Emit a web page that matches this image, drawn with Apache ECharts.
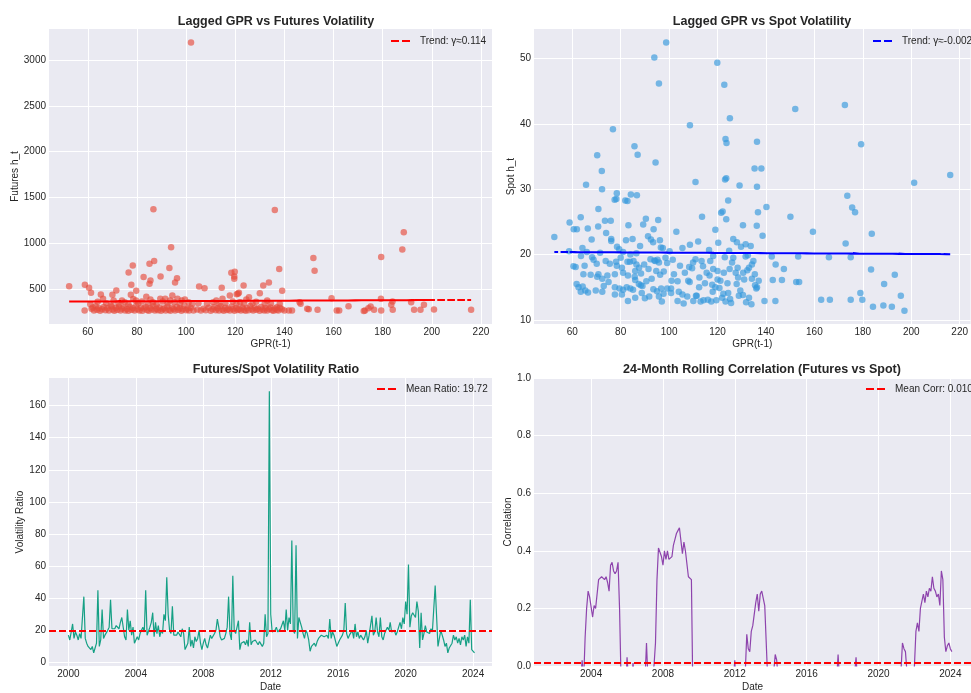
<!DOCTYPE html>
<html><head><meta charset="utf-8">
<script src="https://cdn.jsdelivr.net/npm/echarts@6/dist/echarts.min.js"></script>
<style>html,body{margin:0;padding:0;background:#fff}#c{width:971px;height:693px}</style>
</head><body><div id="c"></div>
<script>
// ---------- data ----------
const titles = ['Lagged GPR vs Futures Volatility','Lagged GPR vs Spot Volatility','Futures/Spot Volatility Ratio','24-Month Rolling Correlation (Futures vs Spot)'];
const gprTicks = [60,80,100,120,140,160,180,200,220];
const futTicks = [500,1000,1500,2000,2500,3000];
const spotTicks = [10,20,30,40,50];
const ratioTicks = [0,20,40,60,80,100,120,140,160];
const ratioYearTicks = [2000,2004,2008,2012,2016,2020,2024];
const corrYearTicks = [2004,2008,2012,2016,2020,2024];

// futures scatter: [GPR(t-1), Futures h_t]
const futuresPoints = [
[102.0,3190],[86.7,1374],[136.1,1366],[188.6,1122],[188.0,934],[179.4,853],[151.8,842],[152.3,704],[137.9,722],[139.1,485],
[93.9,959],[93.2,733],[87.0,809],[85.1,781],[78.3,760],[76.6,686],[77.7,551],[82.7,635],[85.5,598],[85.1,562],
[89.6,642],[95.5,576],[96.3,623],[52.4,536],[58.8,551],[60.5,518],[61.3,464],[65.3,445],[66.2,398],[70.0,442],
[71.6,489],[79.7,486],[83.8,420],[105.3,533],[107.5,514],[114.5,518],[117.8,434],[118.4,682],[119.8,693],[119.6,617],
[119.6,642],[120.6,449],[121.5,464],[123.4,544],[125.6,416],[130.0,460],[131.4,544],[133.7,576],[159.2,405],[166.1,318],
[179.3,398],[183.5,333],[184.0,369],[191.6,361],[196.8,333],[146.6,344],[149.3,289],[146.2,361],[216.0,278],[200.9,282],
[195.4,278],[192.8,278],[184.1,278],[179.4,270],[175.1,314],[174.2,296],[172.8,270],[172.3,266],[176.5,278],[162.3,270],
[161.3,270],[153.5,278],[149.9,285],[143.1,270],[141.8,270],[140.0,270],[138.1,344],[136.9,307],
[58.7,271],[61.5,290],[62.0,305],[62.5,272],[63.2,318],[63.8,280],[64.4,298],[65.0,268],[65.8,285],[66.5,310],
[67.2,275],[68.0,295],[68.6,270],[69.3,322],[70.1,282],[70.8,268],[71.4,300],[72.0,278],[72.7,315],[73.3,270],
[73.9,290],[74.6,305],[75.2,272],[75.9,288],[76.5,268],[77.1,312],[77.8,280],[78.4,296],[79.0,270],[79.7,325],
[80.3,285],[81.0,272],[81.6,300],[82.2,268],[82.9,292],[83.5,310],[84.1,276],[84.8,268],[85.4,298],[86.0,282],
[86.7,320],[87.3,270],[87.9,290],[88.6,275],[89.2,305],[89.8,268],[90.5,285],[91.1,296],[91.7,272],[92.4,315],
[93.0,280],[93.6,268],[94.3,300],[94.9,288],[95.5,270],[96.2,310],[96.8,278],[97.4,295],[98.1,268],[98.7,285],
[99.3,322],[100.0,275],[100.6,292],[101.2,270],[101.9,302],[103.0,272],[104.5,282],[106.0,270],[107.0,290],[108.0,275],
[109.2,300],[110.0,268],[110.8,285],[111.5,310],[112.1,275],[112.8,295],[113.4,270],[114.0,318],[114.7,282],[115.3,268],
[115.9,300],[116.6,277],[117.2,290],[117.8,270],[118.5,312],[119.1,284],[119.7,268],[120.4,298],[121.0,276],[121.6,288],
[122.3,270],[122.9,305],[123.5,280],[124.2,268],[124.8,295],[125.4,275],[126.1,320],[126.7,285],[127.3,270],[128.0,300],
[128.6,278],[129.2,290],[129.9,268],[130.5,310],[131.1,282],[131.8,272],[132.4,298],[133.0,270],[133.7,288],[134.3,305],
[135.0,275],[135.6,268],[136.2,292],[136.9,280],[137.5,270],[138.2,300],[139.0,285],
[61.0,340],[64.0,365],[67.5,350],[69.8,314],[70.5,380],[72.5,345],[73.9,380],[75.0,360],[76.5,340],[77.5,442],
[78.5,395],[79.6,380],[80.5,350],[82.0,370],[84.5,345],[85.5,390],[86.5,360],[88.0,340],[89.5,398],[90.5,370],
[91.5,398],[92.5,350],[93.5,380],[94.4,434],[95.2,360],[96.5,400],[97.5,345],[98.2,380],[99.5,390],[101.0,360],
[102.5,340],[105.0,350],[108.5,345],[111.0,360],[112.3,380],[113.5,345],[114.8,398],[116.0,350],[119.0,370],[120.5,345],
[121.1,453],[122.0,360],[123.5,345],[124.5,390],[127.0,350],[128.5,365],[132.0,345],[133.0,380],[134.5,350]
];

// spot scatter: [GPR(t-1), Spot h_t]
const spotPoints = [
[98.8,52.5],[93.9,50.2],[119.9,49.4],[95.8,46.2],[122.8,46.0],[125.1,40.9],[108.6,39.8],[76.8,39.2],[123.3,37.7],[123.7,37.1],
[70.3,35.2],[85.7,36.6],[87.0,35.3],[72.2,32.8],[94.4,34.1],[65.7,30.7],[72.3,30.0],[110.9,31.1],[123.1,31.5],[123.6,31.7],
[129.1,30.6],[78.4,29.4],[77.5,28.4],[78.2,28.5],[81.9,28.3],[82.8,28.2],[84.2,29.2],[86.7,29.1],[70.8,27.0],[124.4,28.3],
[121.5,26.4],[122.1,26.6],[152.1,42.3],[172.6,42.9],[136.3,37.3],[179.3,36.9],[135.3,33.2],[138.1,33.2],[136.3,30.4],[216.1,32.2],
[201.2,31.0],[173.6,29.0],[175.6,27.2],[176.8,26.5],[136.7,26.5],[140.2,27.3],
[63.5,25.7],[58.9,24.9],[60.6,23.9],[61.9,23.9],[66.4,24.0],[70.7,24.3],[73.5,25.2],[75.9,25.2],[74.0,23.3],[76.1,22.4],
[76.1,22.1],[78.5,21.2],[79.4,20.8],[83.2,24.5],[84.9,22.4],[82.2,22.2],[89.3,24.6],[90.4,25.5],[93.6,23.9],[95.5,25.3],
[91.3,22.8],[92.5,22.3],[93.4,21.9],[96.2,22.2],[97.4,21.0],[96.6,21.1],[52.6,22.7],[58.7,20.5],[64.2,21.0],[63.6,19.8],
[113.6,25.8],[119.1,23.8],[120.3,21.8],[123.6,25.4],[124.8,20.6],[130.5,24.5],[131.6,21.6],[133.7,21.3],[150.1,25.8],[136.2,24.4],
[138.6,22.9],[159.4,23.5],[172.9,21.7],[183.7,23.2],[108.6,21.5],[112.0,22.0],[116.5,20.7],[118.2,19.8],[126.5,22.4],[128.0,21.9],
[129.7,21.2],[103.0,23.5],[105.5,21.0],[100.2,20.5],[88.0,21.3],[86.5,20.2],[68.0,22.3],[71.5,20.3],[81.0,20.4],[66.0,20.4],
[61.4,18.1],[65.1,18.3],[61.8,15.5],[62.6,15.0],[63.5,14.3],[64.3,15.1],[65.4,14.5],[68.8,19.2],[70.1,18.6],[70.8,17.0],
[72.4,16.3],[74.5,16.8],[77.6,17.0],[69.7,14.5],[72.4,14.3],[75.5,18.6],[78.4,18.3],[80.5,18.0],[77.6,15.0],[79.5,14.8],
[81.0,14.6],[82.5,15.0],[84.0,14.8],[85.1,14.6],[77.6,13.9],[80.5,13.9],[83.0,12.9],[78.1,18.9],[82.8,18.9],[83.8,18.9],
[85.3,19.0],[86.5,18.5],[86.0,17.5],[87.6,18.0],[88.4,17.1],[85.8,16.6],[81.0,17.2],[83.0,16.8],[86.0,16.1],[87.5,15.5],
[88.3,15.3],[89.0,15.2],[90.0,13.3],[92.3,19.3],[93.9,19.1],[94.3,19.0],[95.2,19.2],[95.8,18.8],[94.7,17.5],[96.3,16.9],
[97.8,17.4],[95.0,14.4],[95.8,13.6],[96.7,14.8],[97.7,14.0],[99.2,14.8],[100.8,14.8],[99.2,18.7],[101.5,19.2],[103.5,15.9],
[100.8,14.1],[103.5,12.9],[105.5,13.9],[107.9,16.0],[108.5,15.8],[109.9,18.8],[108.3,18.1],[109.5,17.9],[110.9,19.3],[111.4,13.7],
[112.4,15.0],[113.4,19.0],[114.0,18.2],[114.2,13.0],[114.8,15.6],[116.7,16.8],[117.8,15.4],[118.2,17.8],[118.0,14.3],[119.1,15.0],
[117.4,12.8],[116.0,13.1],[113.0,12.8],[111.1,13.7],[120.0,16.2],[120.8,14.9],[121.2,16.0],[121.9,13.4],[122.6,17.2],[122.4,14.0],
[123.3,12.8],[124.1,15.6],[124.4,14.1],[125.2,13.2],[125.6,12.6],[126.0,18.8],[126.5,19.5],[127.5,17.2],[128.3,18.0],[127.9,15.5],
[128.8,13.7],[129.4,14.5],[130.6,17.2],[131.0,16.2],[131.8,12.7],[132.5,19.9],[133.0,18.0],[134.2,16.3],[134.8,19.0],[135.4,17.0],
[136.0,14.8],[135.5,15.3],[133.0,13.4],[136.3,15.0],[131.6,19.7],[142.4,19.7],[144.0,18.5],[147.4,17.8],[142.8,16.1],[146.6,16.1],
[152.5,15.8],[153.7,15.8],[139.4,12.9],[143.9,12.9],[162.8,13.1],[166.4,13.1],[175.0,13.1],[179.8,13.1],[179.0,14.1],[183.4,17.7],
[193.2,16.9],[188.8,15.5],[195.7,13.7],[184.2,12.0],[188.5,12.2],[192.0,12.0],[197.2,11.4],[153.3,19.7],[166.0,19.6],[175.0,19.6],
[134.2,18.5],[137.0,16.0],[132.3,17.6],[120.0,17.5],[117.0,19.0],[115.5,17.2],[106.5,17.2],[104.5,18.3],[102.0,17.0],[98.5,19.5],
[91.5,17.8],[92.8,16.3],[90.6,15.9],[89.7,18.5],[93.5,14.7],[97.0,12.8],[91.8,13.6],[88.7,14.1],[86.0,13.4],[75.0,15.8],
[73.0,15.2],[70.3,16.6],[67.6,16.9],[66.5,14.2],[60.5,18.2],[64.6,17.0],[68.2,19.6],[73.8,19.0],[80.0,19.5],[84.0,20.0],
[101.0,16.0],[104.0,14.3],[106.0,12.5],[107.5,13.6],[110.0,12.9],[112.5,16.5],[119.5,13.0],[123.0,19.6],[125.0,17.8],[128.5,16.5],
[130.5,13.8],[134.0,12.4]
];

// trend fits (slope from legend, intercept)
const futTrend = {slope: 0.114, intercept: 362, label: 'Trend: γ≈0.114'};
const spotTrend = {slope: -0.002, intercept: 20.5, label: 'Trend: γ≈-0.002'};

// monthly futures/spot volatility ratio, Jan 2000 .. Feb 2024
const ratioStart = 2000;
const ratioValues = [
17,14,13,24,15,19,17,14,18,15,16,41,
15,12,10,9,8,10,6,9,12,45,10,14,
33,15,17,16,20,22,39,21,22,21,23,22,
21,25,28,29,16,14,33,20,26,17,22,12,
13,16,14,18,20,22,19,45,17,18,22,25,
31,16,25,18,23,16,20,18,30,26,53,30,
20,18,35,17,18,17,19,20,16,21,18,8,
10,12,22,10,14,9,16,13,15,20,12,8,
12,15,11,9,13,17,15,16,18,20,27,22,
16,14,13,15,18,22,41,18,14,54,20,18,
19,26,8,12,11,13,11,14,10,25,11,13,
12,14,15,11,13,12,10,12,30,16,18,169,
30,19,18,20,22,19,18,21,20,26,20,33,
20,28,24,76,20,18,73,15,28,27,22,18,
15,20,18,14,7,10,11,12,10,13,15,16,
17,18,16,15,17,15,27,15,19,17,18,10,
12,14,15,17,20,37,18,15,17,16,20,15,
24,16,19,15,17,18,14,16,20,12,17,18,
29,17,19,28,19,16,28,16,14,18,20,22,
20,25,19,18,20,17,19,22,25,21,28,24,
38,30,61,22,29,31,30,28,38,32,9,31,
14,18,23,19,20,18,21,19,20,48,49,10,
15,20,17,14,10,12,6,9,10,12,17,14,
16,12,15,11,16,14,17,10,16,12,39,8,
7,6
];
const meanRatio = 19.72;

// 24-month rolling correlation, Dec 2001 .. Feb 2024 (values below 0 fall outside the axis)
const corrStart = 2001 + 11/12;
const corrValues = [
-0.2,
-0.15,-0.2,-0.25,-0.2,-0.18,-0.22,-0.2,-0.15,-0.12,-0.18,-0.2,-0.15,
-0.15,-0.1,-0.12,-0.08,-0.1,-0.05,0.02,-0.05,0.1,0.2,0.26,0.24,
0.24,0.17,0.21,0.2,0.25,0.3,0.3,0.31,0.31,0.3,0.31,0.29,
0.26,0.35,0.36,0.33,0.32,0.33,0.36,0.2,-0.05,-0.2,-0.15,-0.1,
0.03,-0.05,-0.1,-0.05,0.01,-0.05,-0.1,-0.15,-0.1,-0.12,-0.1,-0.15,
-0.05,0.08,-0.05,-0.1,-0.05,-0.02,0.0,0.08,0.3,0.41,0.41,0.38,
0.35,0.4,0.37,0.4,0.37,0.37,0.38,0.42,0.44,0.46,0.47,0.48,
0.48,0.39,0.43,0.4,0.4,0.31,0.31,0.3,-0.1,-0.2,-0.25,-0.2,
-0.2,-0.25,-0.3,-0.25,-0.2,-0.22,-0.25,-0.3,-0.28,-0.25,-0.2,-0.22,
-0.2,-0.18,-0.22,-0.25,-0.2,-0.15,-0.18,-0.2,-0.15,-0.1,-0.12,-0.05,
0.02,-0.1,-0.15,-0.1,-0.12,-0.15,-0.1,-0.02,0.11,0.06,0.05,0.12,
0.14,0.18,0.22,0.25,0.19,0.25,0.26,0.26,0.21,0.21,-0.05,-0.1,
-0.05,-0.03,-0.02,0.04,0.02,-0.05,-0.1,-0.15,-0.1,-0.12,-0.15,-0.1,
-0.15,-0.2,-0.18,-0.2,-0.22,-0.25,-0.2,-0.18,-0.2,-0.22,-0.2,-0.18,
-0.15,-0.12,-0.15,-0.18,-0.2,-0.15,-0.12,-0.1,-0.12,-0.15,-0.12,-0.1,
-0.1,-0.12,-0.1,-0.08,-0.1,-0.12,-0.1,-0.08,-0.05,0.04,-0.05,-0.1,
-0.12,-0.1,-0.08,-0.1,-0.12,-0.1,-0.08,-0.05,-0.03,0.03,-0.05,-0.1,
-0.12,-0.15,-0.18,-0.2,-0.15,-0.12,-0.15,-0.18,-0.2,-0.15,-0.12,-0.15,
-0.18,-0.2,-0.25,-0.2,-0.18,-0.15,-0.2,-0.18,-0.15,-0.12,-0.1,-0.12,
-0.1,-0.08,-0.05,-0.02,0.08,0.06,0.05,-0.02,-0.1,-0.08,-0.1,-0.05,
0.0,0.12,0.15,0.12,0.2,0.2,0.25,0.22,0.26,0.24,0.27,0.26,
0.31,0.27,0.26,0.24,0.25,0.21,0.33,0.3,0.1,0.05,0.07,0.08,
0.06,0.05
];
const meanCorr = 0.010;

// ---------- chart ----------
const FONT = 'Liberation Sans, Arial, sans-serif';
const TXT = '#262626';
const ratioSeries = ratioValues.map((v,i)=>[ratioStart + i/12, v]);
const corrSeries = corrValues.map((v,i)=>[corrStart + i/12, v]);
// the fitted line is drawn through every observation's x in a shuffled (non-sorted) order,
// the way a plot of the fit over unsorted data overlaps its own dashes
function shuffledOrder(n){ return Array.from({length:n},(_,i)=>i).sort((a,b)=>((a*7919)%1013)-((b*7919)%1013)); }
const futTrendLine = shuffledOrder(futuresPoints.length).map(i=>{const x=futuresPoints[i][0]; return [x, futTrend.intercept + futTrend.slope*x];});
const spotTrendLine = shuffledOrder(spotPoints.length).map(i=>{const x=spotPoints[i][0]; return [x, spotTrend.intercept + spotTrend.slope*x];});

function axis(opts){
  const ticks = opts.ticks;
  const a = {
    type:'value', gridIndex: opts.grid, min: opts.min, max: opts.max,
    name: opts.name, nameLocation:'middle', nameGap: opts.nameGap,
    nameTextStyle:{fontFamily:FONT, fontSize:10, color:TXT},
    axisLine:{show:false},
    axisTick:{show:false},
    axisLabel:{fontFamily:FONT, fontSize:10, color:TXT, margin:3, showMinLabel:true, showMaxLabel:true,
      formatter: opts.formatter || (v=>String(v))},
    splitLine:{show:true, lineStyle:{color:'#ffffff', width:1}}
  };
  if (ticks) {
    a.axisTick.customValues = ticks;
    a.axisLabel.customValues = ticks;
    a.splitLine.customValues = ticks;
  }
  if (opts.interval) a.interval = opts.interval;
  return a;
}

const grids = [
  {left:49, top:29, width:443, height:295},
  {left:534, top:29, width:446, height:295},
  {left:49, top:378, width:443, height:294},
  {left:534, top:378, width:446, height:294}
].map(g=>Object.assign({show:true, backgroundColor:'#EAEAF2', borderWidth:0, containLabel:false}, g));

const titleCenters = [[271,10],[757,10],[271,358],[757,358]];
const dashed = [7,3];
const dashIcon = 'path://M0,0H8V2H0ZM11,0H19V2H11Z';

function legendEntry(name, left, top){
  return {data:[{name:name, icon:dashIcon}], left:left, top:top, itemWidth:19, itemHeight:2, itemGap:0, padding:0,
    textStyle:{fontFamily:FONT, fontSize:10, color:TXT, padding:[0,0,0,5]}};
}

const option = {
  animation:false,
  backgroundColor:'#ffffff',
  textStyle:{fontFamily:FONT},
  title: titles.map((t,i)=>({text:t, left:titleCenters[i][0], top:titleCenters[i][1], textAlign:'center',
    textStyle:{fontFamily:FONT, fontSize:12.5, fontWeight:'bold', color:TXT}})),
  grid: grids,
  legend: [
    legendEntry(futTrend.label, 391, 36),
    legendEntry(spotTrend.label, 873, 36),
    legendEntry('Mean Ratio: '+meanRatio.toFixed(2), 377, 384),
    legendEntry('Mean Corr: '+meanCorr.toFixed(3), 866, 384)
  ],
  xAxis: [
    axis({grid:0, min:44.2, max:224.5, ticks:gprTicks, name:'GPR(t-1)', nameGap:15}),
    axis({grid:1, min:44.2, max:224.5, ticks:gprTicks, name:'GPR(t-1)', nameGap:15}),
    axis({grid:2, min:1998.85, max:2025.12, ticks:ratioYearTicks, name:'Date', nameGap:16}),
    axis({grid:3, min:2000.82, max:2025.15, ticks:corrYearTicks, name:'Date', nameGap:16})
  ],
  yAxis: [
    axis({grid:0, min:124, max:3336, ticks:futTicks, name:'Futures h_t', nameGap:26}),
    axis({grid:1, min:9.37, max:54.55, ticks:spotTicks, name:'Spot h_t', nameGap:18}),
    axis({grid:2, min:-2.2, max:177.2, ticks:ratioTicks, name:'Volatility Ratio', nameGap:24}),
    axis({grid:3, min:0, max:1, interval:0.2, name:'Correlation', nameGap:21, formatter:v=>v.toFixed(1)})
  ],
  series: [
    {type:'scatter', xAxisIndex:0, yAxisIndex:0, data:futuresPoints, symbolSize:6.5,
      itemStyle:{color:'#E74C3C', opacity:0.65}, silent:true},
    {type:'line', name:futTrend.label, xAxisIndex:0, yAxisIndex:0, data:futTrendLine, showSymbol:false, symbol:'none',
      lineStyle:{color:'#FF0000', width:2, type:dashed}, itemStyle:{color:'#FF0000'}, silent:true},
    {type:'scatter', xAxisIndex:1, yAxisIndex:1, data:spotPoints, symbolSize:6.5,
      itemStyle:{color:'#3498DB', opacity:0.65}, silent:true},
    {type:'line', name:spotTrend.label, xAxisIndex:1, yAxisIndex:1, data:spotTrendLine, showSymbol:false, symbol:'none',
      lineStyle:{color:'#0000FF', width:2, type:dashed}, itemStyle:{color:'#0000FF'}, silent:true},
    {type:'line', xAxisIndex:2, yAxisIndex:2, data:ratioSeries, showSymbol:false, symbol:'none',
      lineStyle:{color:'#16A085', width:1.2}, silent:true},
    {type:'line', name:'Mean Ratio: '+meanRatio.toFixed(2), xAxisIndex:2, yAxisIndex:2, data:[], symbol:'none',
      lineStyle:{color:'#FF0000', width:2, type:dashed}, itemStyle:{color:'#FF0000'},
      markLine:{silent:true, symbol:'none', label:{show:false}, animation:false,
        lineStyle:{color:'#FF0000', width:2, type:dashed}, data:[{yAxis:meanRatio}]}},
    {type:'line', xAxisIndex:3, yAxisIndex:3, data:corrSeries, showSymbol:false, symbol:'none', clip:true,
      lineStyle:{color:'#8E44AD', width:1.2}, silent:true},
    {type:'line', name:'Mean Corr: '+meanCorr.toFixed(3), xAxisIndex:3, yAxisIndex:3, data:[], symbol:'none',
      lineStyle:{color:'#FF0000', width:2, type:dashed}, itemStyle:{color:'#FF0000'},
      markLine:{silent:true, symbol:'none', label:{show:false}, animation:false,
        lineStyle:{color:'#FF0000', width:2, type:dashed}, data:[{yAxis:meanCorr}]}}
  ]
};
const chart = echarts.init(document.getElementById('c'), null, {renderer:'canvas'});
chart.setOption(option);
</script>
</body></html>
